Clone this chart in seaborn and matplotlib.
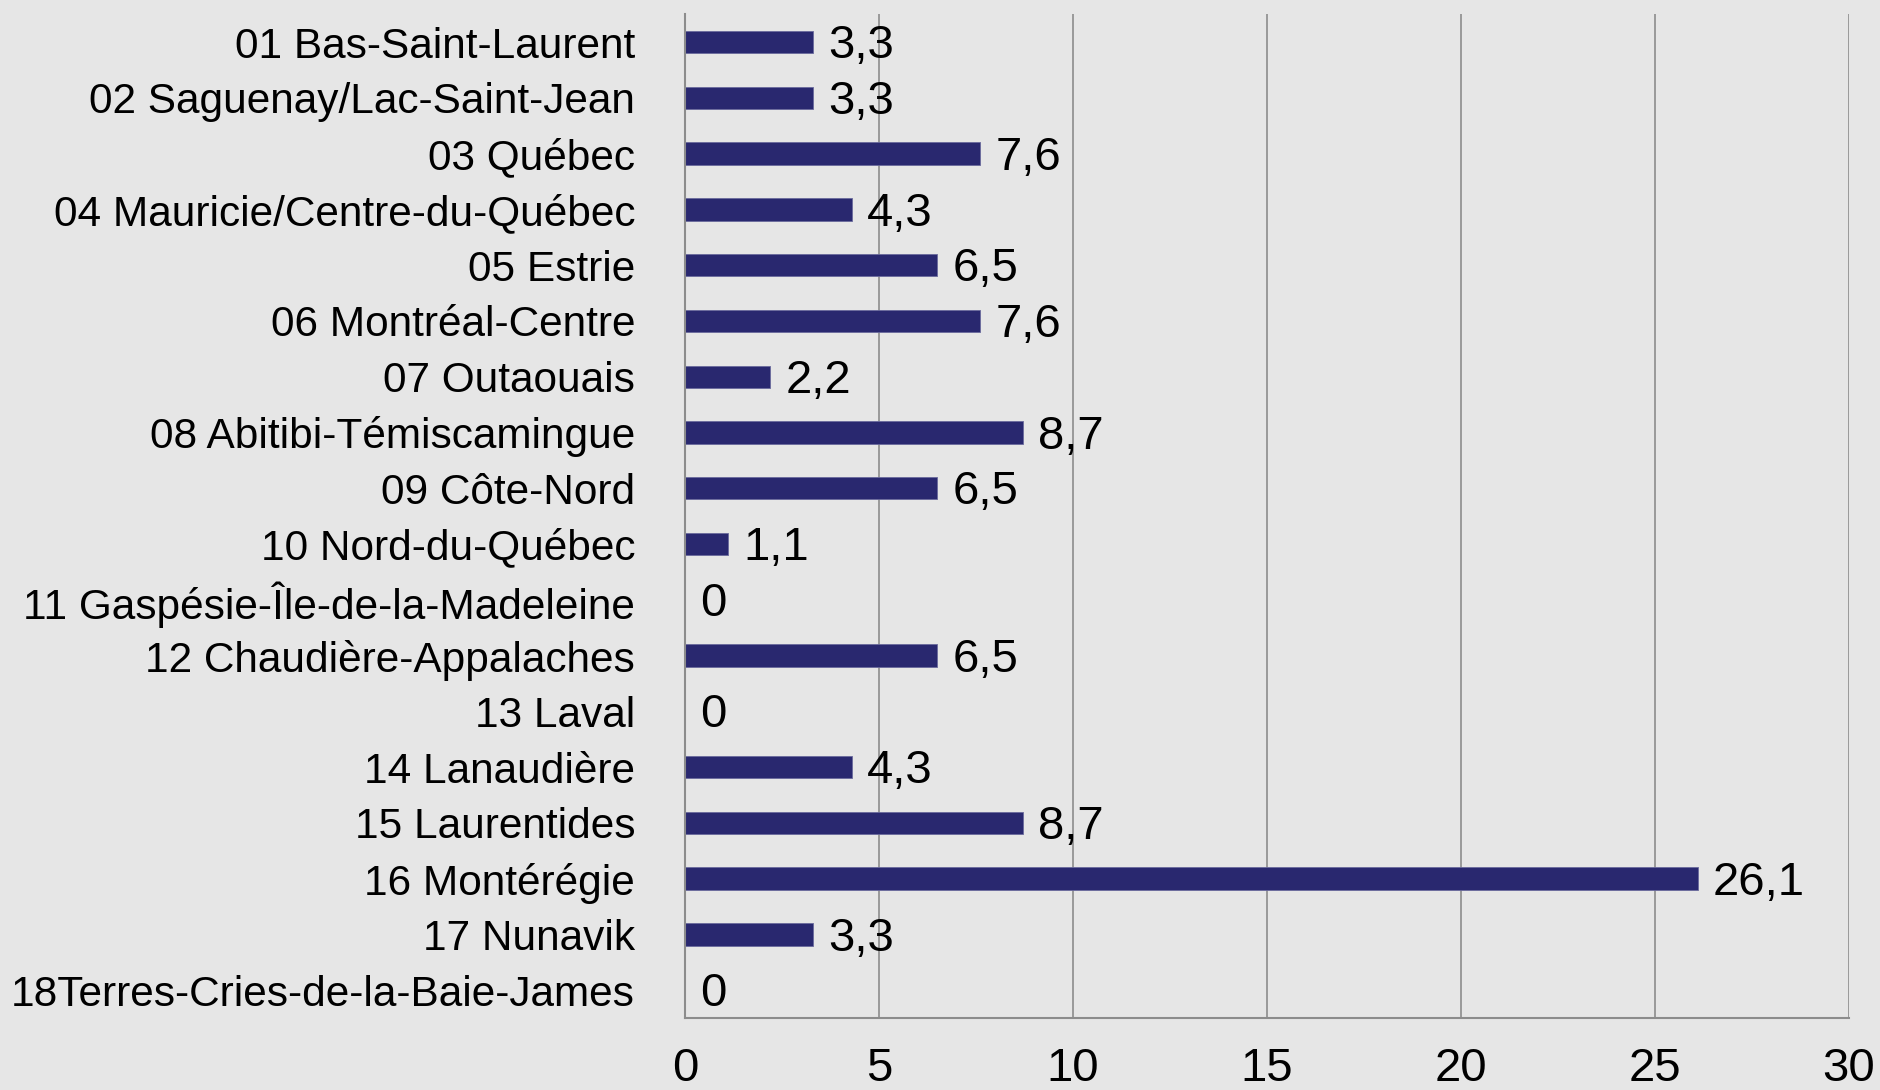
import matplotlib
matplotlib.use("Agg")
import matplotlib.pyplot as plt
import seaborn as sns
import pandas as pd
import numpy as np

regions = [
    "01 Bas-Saint-Laurent",
    "02 Saguenay/Lac-Saint-Jean",
    "03 Québec",
    "04 Mauricie/Centre-du-Québec",
    "05 Estrie",
    "06 Montréal-Centre",
    "07 Outaouais",
    "08 Abitibi-Témiscamingue",
    "09 Côte-Nord",
    "10 Nord-du-Québec",
    "11 Gaspésie-Île-de-la-Madeleine",
    "12 Chaudière-Appalaches",
    "13 Laval",
    "14 Lanaudière",
    "15 Laurentides",
    "16 Montérégie",
    "17 Nunavik",
    "18Terres-Cries-de-la-Baie-James",
]
values = [3.3, 3.3, 7.6, 4.3, 6.5, 7.6, 2.2, 8.7, 6.5, 1.1, 0, 6.5, 0, 4.3, 8.7, 26.1, 3.3, 0]
x_ticks = [0, 5, 10, 15, 20, 25, 30]

df = pd.DataFrame({"region": regions, "value": values})

sns.set_theme(style="white")
plt.rcParams["font.family"] = ["Liberation Sans", "DejaVu Sans"]

BG = "#E6E6E6"
GRID = "#8C8C8C"
BAR = "#29286F"

fig = plt.figure(figsize=(18.81, 10.90), dpi=100, facecolor=BG)
ax = fig.add_axes([0.3642, 0.066, 0.983 - 0.3642, 0.987 - 0.066])
ax.set_facecolor(BG)

sns.barplot(data=df, y="region", x="value", orient="h", color=BAR, saturation=1,
            width=0.4, edgecolor="#6A6A9C", linewidth=0.6, ax=ax, zorder=3)

ax.set_xlim(0, 30)
ax.set_ylim(len(regions) - 0.5, -0.5)
ax.set_xticks(x_ticks)
ax.set_xticklabels([str(t) for t in x_ticks], fontsize=34, color="black")
ax.set_xlabel("")
ax.set_ylabel("")

ax.set_yticks(range(len(regions)))
ax.set_yticklabels(regions, fontsize=30.5, color="black")
ax.set_yticks(np.arange(-0.5, len(regions), 1.0), minor=True)
ax.tick_params(axis="y", which="major", length=0, pad=36)
ax.tick_params(axis="y", which="minor", length=9, width=1.2, color=GRID, direction="out")
ax.tick_params(axis="x", which="major", length=11, width=1.2, color=GRID, direction="out", pad=10)

ax.grid(axis="x", color=GRID, linewidth=1.2, zorder=0)
ax.grid(axis="y", visible=False)
for s in ["top", "right"]:
    ax.spines[s].set_visible(False)
for s in ["left", "bottom"]:
    ax.spines[s].set_color(GRID)
    ax.spines[s].set_linewidth(1.5)
    ax.spines[s].set_zorder(4)

for i, v in enumerate(values):
    txt = "0" if v == 0 else f"{v:.1f}".replace(".", ",")
    ax.annotate(txt, xy=(v, i), xytext=(11, -3), textcoords="offset points",
                ha="left", va="center", fontsize=34, color="black")

fig.savefig("out.png", dpi=100, facecolor=BG)
